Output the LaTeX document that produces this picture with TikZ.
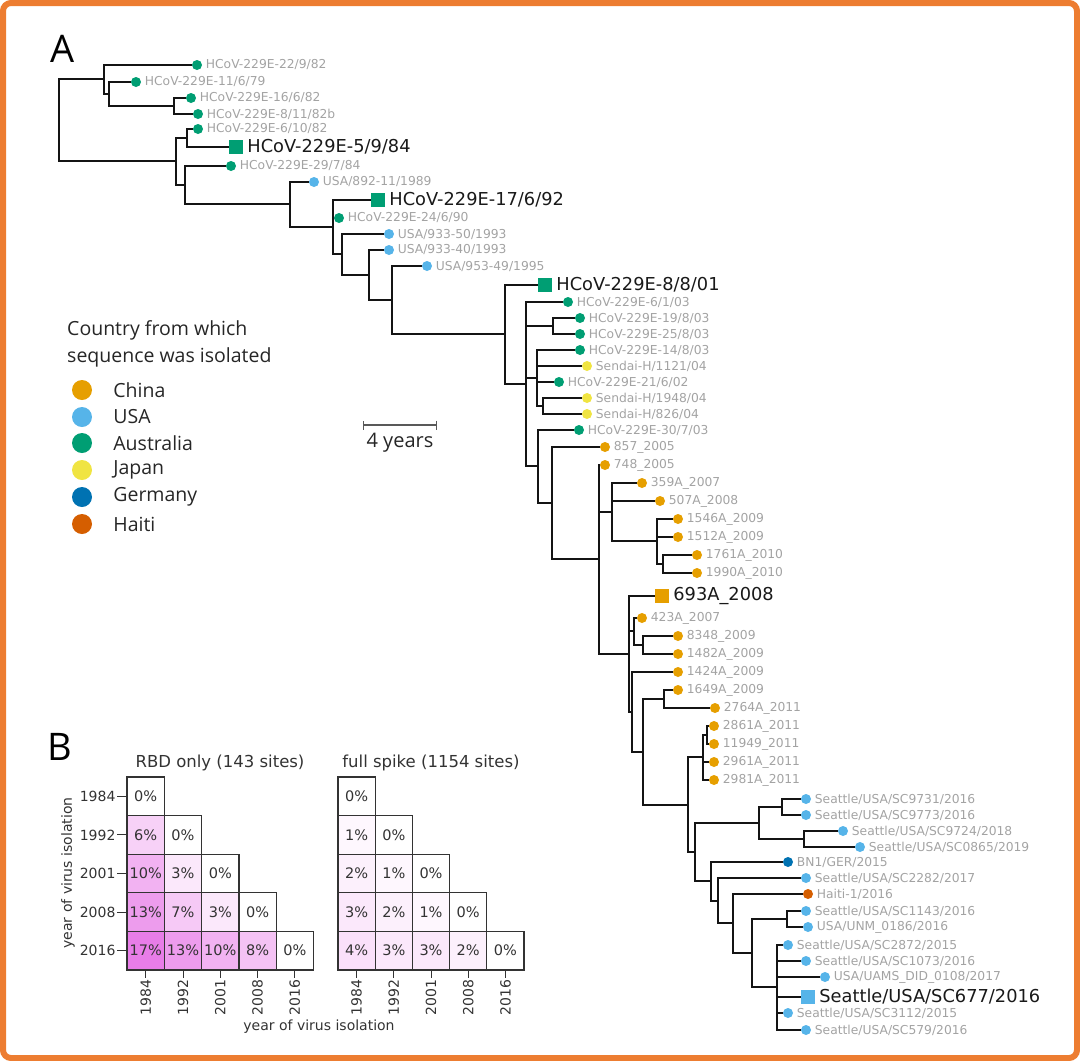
\documentclass[tikz,border=0pt]{standalone}
\usepackage{fontspec}
\setmainfont{DejaVu Sans}
\newfontfamily\opensans{Open Sans}
\usepackage{xcolor}
\usetikzlibrary{arrows.meta, positioning}
\definecolor{chn}{HTML}{E69F00}
\definecolor{usa}{HTML}{56B4E9}
\definecolor{aus}{HTML}{009E73}
\definecolor{jpn}{HTML}{F0E442}
\definecolor{ger}{HTML}{0072B2}
\definecolor{hai}{HTML}{D55E00}
\definecolor{labgrey}{HTML}{A3A3A3}
\definecolor{framecol}{RGB}{237,125,49}
\definecolor{heat}{RGB}{225,85,225}
\tikzstyle{tip} = [circle, inner sep=0pt, minimum size=10pt]
\tikzstyle{reftip} = [rectangle, inner sep=0pt, minimum size=14pt]
\tikzstyle{leaflab} = [text=labgrey, inner sep=1.5pt, font=\fontsize{12.3}{14}\selectfont]
\tikzstyle{reflab} = [text=black!90, inner sep=2pt, font=\fontsize{17.8}{20}\selectfont]
\tikzstyle{branch} = [line width=2.6pt, black!92]
\tikzstyle{cell} = [rectangle, draw=black!80, line width=1.2pt, minimum width=37.3pt, minimum height=38.6pt, inner sep=0pt, text=black!80, font=\fontsize{14.5}{16}\selectfont]
\tikzstyle{legdot} = [circle, inner sep=0pt, minimum size=20pt]
\tikzstyle{legtext} = [inner sep=0pt, anchor=west, text=black!85, font=\opensans\fontsize{19.5}{26.5}\selectfont]
\tikzstyle{tick} = [line width=1pt, black!80]
\tikzstyle{ticklab} = [inner sep=1.5pt, text=black!80, font=\fontsize{14}{16}\selectfont]
\tikzstyle{panel} = [inner sep=0pt, text=black, font=\opensans\fontsize{38}{38}\selectfont]

\begin{document}
\begin{tikzpicture}[x=1pt, y=-1pt, label distance=2pt]
\useasboundingbox (0,0) rectangle (1080,1061);
\draw[framecol, line width=6pt, rounded corners=8pt] (3,3) rectangle (1077,1058);

\node[panel] (pa) at (62.5,48.5) {A};
\node[panel] (pb) at (59.5,746.5) {B};

% tips of the tree
\node[tip, fill=aus, label={[leaflab]right:HCoV-229E-22/9/82}] (l1) at (197,65) {};
\node[tip, fill=aus, label={[leaflab]right:HCoV-229E-11/6/79}] (l2) at (136,82) {};
\node[tip, fill=aus, label={[leaflab]right:HCoV-229E-16/6/82}] (l3) at (191,98) {};
\node[tip, fill=aus, label={[leaflab]right:HCoV-229E-8/11/82b}] (l4) at (198,114) {};
\node[tip, fill=aus, label={[leaflab]right:HCoV-229E-6/10/82}] (l5) at (198,129) {};
\node[reftip, fill=aus, label={[reflab]right:HCoV-229E-5/9/84}] (l6) at (236,147) {};
\node[tip, fill=aus, label={[leaflab]right:HCoV-229E-29/7/84}] (l7) at (231,166) {};
\node[tip, fill=usa, label={[leaflab]right:USA/892-11/1989}] (l8) at (314,182) {};
\node[reftip, fill=aus, label={[reflab]right:HCoV-229E-17/6/92}] (l9) at (378,200) {};
\node[tip, fill=aus, label={[leaflab]right:HCoV-229E-24/6/90}] (l10) at (339,218) {};
\node[tip, fill=usa, label={[leaflab]right:USA/933-50/1993}] (l11) at (389,234) {};
\node[tip, fill=usa, label={[leaflab]right:USA/933-40/1993}] (l12) at (389,250) {};
\node[tip, fill=usa, label={[leaflab]right:USA/953-49/1995}] (l13) at (427,266) {};
\node[reftip, fill=aus, label={[reflab]right:HCoV-229E-8/8/01}] (l14) at (545,285) {};
\node[tip, fill=aus, label={[leaflab]right:HCoV-229E-6/1/03}] (l15) at (568,302) {};
\node[tip, fill=aus, label={[leaflab]right:HCoV-229E-19/8/03}] (l16) at (580,318) {};
\node[tip, fill=aus, label={[leaflab]right:HCoV-229E-25/8/03}] (l17) at (580,334) {};
\node[tip, fill=aus, label={[leaflab]right:HCoV-229E-14/8/03}] (l18) at (580,350) {};
\node[tip, fill=jpn, label={[leaflab]right:Sendai-H/1121/04}] (l19) at (587,366) {};
\node[tip, fill=aus, label={[leaflab]right:HCoV-229E-21/6/02}] (l20) at (559,382) {};
\node[tip, fill=jpn, label={[leaflab]right:Sendai-H/1948/04}] (l21) at (587,398) {};
\node[tip, fill=jpn, label={[leaflab]right:Sendai-H/826/04}] (l22) at (587,414) {};
\node[tip, fill=aus, label={[leaflab]right:HCoV-229E-30/7/03}] (l23) at (579,430) {};
\node[tip, fill=chn, label={[leaflab]right:857\_2005}] (l24) at (605,447) {};
\node[tip, fill=chn, label={[leaflab]right:748\_2005}] (l25) at (605,465) {};
\node[tip, fill=chn, label={[leaflab]right:359A\_2007}] (l26) at (642,483) {};
\node[tip, fill=chn, label={[leaflab]right:507A\_2008}] (l27) at (660,501) {};
\node[tip, fill=chn, label={[leaflab]right:1546A\_2009}] (l28) at (678,519) {};
\node[tip, fill=chn, label={[leaflab]right:1512A\_2009}] (l29) at (678,537) {};
\node[tip, fill=chn, label={[leaflab]right:1761A\_2010}] (l30) at (697,555) {};
\node[tip, fill=chn, label={[leaflab]right:1990A\_2010}] (l31) at (697,573) {};
\node[reftip, fill=chn, label={[reflab]right:693A\_2008}] (l32) at (662,596) {};
\node[tip, fill=chn, label={[leaflab]right:423A\_2007}] (l33) at (642,618) {};
\node[tip, fill=chn, label={[leaflab]right:8348\_2009}] (l34) at (678,636) {};
\node[tip, fill=chn, label={[leaflab]right:1482A\_2009}] (l35) at (678,654) {};
\node[tip, fill=chn, label={[leaflab]right:1424A\_2009}] (l36) at (678,672) {};
\node[tip, fill=chn, label={[leaflab]right:1649A\_2009}] (l37) at (678,690) {};
\node[tip, fill=chn, label={[leaflab]right:2764A\_2011}] (l38) at (715,708) {};
\node[tip, fill=chn, label={[leaflab]right:2861A\_2011}] (l39) at (714,726) {};
\node[tip, fill=chn, label={[leaflab]right:11949\_2011}] (l40) at (714,744) {};
\node[tip, fill=chn, label={[leaflab]right:2961A\_2011}] (l41) at (714,762) {};
\node[tip, fill=chn, label={[leaflab]right:2981A\_2011}] (l42) at (714,780) {};
\node[tip, fill=usa, label={[leaflab]right:Seattle/USA/SC9731/2016}] (l43) at (806,799) {};
\node[tip, fill=usa, label={[leaflab]right:Seattle/USA/SC9773/2016}] (l44) at (806,815) {};
\node[tip, fill=usa, label={[leaflab]right:Seattle/USA/SC9724/2018}] (l45) at (843,831) {};
\node[tip, fill=usa, label={[leaflab]right:Seattle/USA/SC0865/2019}] (l46) at (860,847) {};
\node[tip, fill=ger, label={[leaflab]right:BN1/GER/2015}] (l47) at (788,862) {};
\node[tip, fill=usa, label={[leaflab]right:Seattle/USA/SC2282/2017}] (l48) at (806,878) {};
\node[tip, fill=hai, label={[leaflab]right:Haiti-1/2016}] (l49) at (808,894) {};
\node[tip, fill=usa, label={[leaflab]right:Seattle/USA/SC1143/2016}] (l50) at (806,911) {};
\node[tip, fill=usa, label={[leaflab]right:USA/UNM\_0186/2016}] (l51) at (808,927) {};
\node[tip, fill=usa, label={[leaflab]right:Seattle/USA/SC2872/2015}] (l52) at (788,945) {};
\node[tip, fill=usa, label={[leaflab]right:Seattle/USA/SC1073/2016}] (l53) at (806,961) {};
\node[tip, fill=usa, label={[leaflab]right:USA/UAMS\_DID\_0108/2017}] (l54) at (825,977) {};
\node[reftip, fill=usa, label={[reflab]right:Seattle/USA/SC677/2016}] (l55) at (808,997) {};
\node[tip, fill=usa, label={[leaflab]right:Seattle/USA/SC3112/2015}] (l56) at (788,1013) {};
\node[tip, fill=usa, label={[leaflab]right:Seattle/USA/SC579/2016}] (l57) at (806,1030) {};

% inner nodes
\coordinate (root) at (59,120);
\coordinate (a) at (104,79);
\coordinate (a2) at (109,94);
\coordinate (a3) at (174,106);
\coordinate (b) at (176,161);
\coordinate (b1) at (187,138);
\coordinate (b2) at (185,185);
\coordinate (c) at (290,204);
\coordinate (d) at (333,227);
\coordinate (e) at (342,254);
\coordinate (f) at (369,275);
\coordinate (g) at (392,300);
\coordinate (h) at (505,334);
\coordinate (i) at (526,384);
\coordinate (j1) at (553,326);
\coordinate (j2) at (537,378);
\coordinate (j3) at (543,406);
\coordinate (k) at (538,466);
\coordinate (m) at (552,503);
\coordinate (n) at (599,559);
\coordinate (o) at (612,512);
\coordinate (q) at (657,541);
\coordinate (r) at (663,564);
\coordinate (p) at (629,654);
\coordinate (s) at (634,631);
\coordinate (s2) at (643,645);
\coordinate (p2) at (632,712);
\coordinate (t) at (643,752);
\coordinate (u) at (664,699);
\coordinate (v) at (688,805);
\coordinate (z1) at (703,757);
\coordinate (z1a) at (707,735);
\coordinate (z2) at (695,852);
\coordinate (aa) at (759,823);
\coordinate (aa1) at (782,807);
\coordinate (aa2) at (804,839);
\coordinate (bb) at (711,881);
\coordinate (cc) at (718,901);
\coordinate (dd) at (733,923);
\coordinate (ee) at (752,953);
\coordinate (ff) at (787,919);
\coordinate (gg) at (777,987);

% branches
\draw[branch] (root) |- (a) (root) |- (b);
\draw[branch] (a) |- (l1) (a) |- (a2);
\draw[branch] (a2) |- (l2) (a2) |- (a3);
\draw[branch] (a3) |- (l3) (a3) |- (l4);
\draw[branch] (b) |- (b1) (b) |- (b2);
\draw[branch] (b1) |- (l5) (b1) |- (l6);
\draw[branch] (b2) |- (l7) (b2) |- (c);
\draw[branch] (c) |- (l8) (c) |- (d);
\draw[branch] (d) |- (l9) (d) |- (l10) (d) |- (e);
\draw[branch] (e) |- (l11) (e) |- (f);
\draw[branch] (f) |- (l12) (f) |- (g);
\draw[branch] (g) |- (l13) (g) |- (h);
\draw[branch] (h) |- (l14) (h) |- (i);
\draw[branch] (i) |- (l15) (i) |- (j1) (i) |- (j2) (i) |- (k);
\draw[branch] (j1) |- (l16) (j1) |- (l17);
\draw[branch] (j2) |- (l18) (j2) |- (l19) (j2) |- (l20) (j2) |- (j3);
\draw[branch] (j3) |- (l21) (j3) |- (l22);
\draw[branch] (k) |- (l23) (k) |- (m);
\draw[branch] (m) |- (l24) (m) |- (n);
\draw[branch] (n) |- (l25) (n) |- (o) (n) |- (p);
\draw[branch] (o) |- (l26) (o) |- (l27) (o) |- (q);
\draw[branch] (q) |- (l28) (q) |- (l29) (q) |- (r);
\draw[branch] (r) |- (l30) (r) |- (l31);
\draw[branch] (p) |- (l32) (p) |- (s) (p) |- (p2);
\draw[branch] (s) |- (l33) (s) |- (s2);
\draw[branch] (s2) |- (l34) (s2) |- (l35);
\draw[branch] (p2) |- (l36) (p2) |- (t);
\draw[branch] (t) |- (u) (t) |- (v);
\draw[branch] (u) |- (l37) (u) |- (l38);
\draw[branch] (v) |- (z1) (v) |- (z2);
\draw[branch] (z1) |- (z1a) (z1) |- (l41) (z1) |- (l42);
\draw[branch] (z1a) |- (l39) (z1a) |- (l40);
\draw[branch] (z2) |- (aa) (z2) |- (bb);
\draw[branch] (aa) |- (aa1) (aa) |- (aa2);
\draw[branch] (aa1) |- (l43) (aa1) |- (l44);
\draw[branch] (aa2) |- (l45) (aa2) |- (l46);
\draw[branch] (bb) |- (l47) (bb) |- (cc);
\draw[branch] (cc) |- (l48) (cc) |- (dd);
\draw[branch] (dd) |- (l49) (dd) |- (ee);
\draw[branch] (ee) |- (ff) (ee) |- (gg);
\draw[branch] (ff) |- (l50) (ff) |- (l51);
\draw[branch] (gg) |- (l52) (gg) |- (l53) (gg) |- (l54) (gg) |- (l55) (gg) |- (l56) (gg) |- (l57);

% scale bar
\coordinate (bar-l) at (363,425);
\coordinate (bar-r) at (437,425);
\draw[{Bar[width=9pt]}-{Bar[width=9pt]}, line width=1.3pt, black!65] (bar-l) -- (bar-r);
\node[legtext, anchor=center, font=\opensans\fontsize{20}{22}\selectfont] (years) at (400,443) {4 years};

% legend
\node[legtext, align=left] (legtitle) at (67,344) {Country from which\\sequence was isolated};
\node[legdot, fill=chn] (k-chn) at (82,390) {};
\node[legdot, fill=usa] (k-usa) at (82,417) {};
\node[legdot, fill=aus] (k-aus) at (82,443) {};
\node[legdot, fill=jpn] (k-jpn) at (82,470) {};
\node[legdot, fill=ger] (k-ger) at (82,497) {};
\node[legdot, fill=hai] (k-hai) at (82,524) {};
\node[legtext, right=21pt of k-chn] {China};
\node[legtext, right=21pt of k-usa] {USA};
\node[legtext, right=21pt of k-aus] {Australia};
\node[legtext, right=21pt of k-jpn] {Japan};
\node[legtext, right=21pt of k-ger] {Germany};
\node[legtext, right=21pt of k-hai] {Haiti};

% panel B: divergence matrices
\node[ticklab, font=\fontsize{16.5}{18}\selectfont] (rbd-title) at (220,763) {RBD only (143 sites)};
\node[ticklab, font=\fontsize{16.5}{18}\selectfont] (spk-title) at (431,763) {full spike (1154 sites)};
\foreach \r/\c/\v in {0/0/0,1/0/6,1/1/0,2/0/10,2/1/3,2/2/0,3/0/13,3/1/7,3/2/3,3/3/0,4/0/17,4/1/13,4/2/10,4/3/8,4/4/0}{
  \pgfmathsetmacro\pct{4.5*\v}
  \node[cell, fill=heat!\pct!white] (rbd-\r-\c) at (145.7+37.3*\c, 796.3+38.6*\r) {\v\%};
}
\foreach \r/\c/\v in {0/0/0,1/0/1,1/1/0,2/0/2,2/1/1,2/2/0,3/0/3,3/1/2,3/2/1,3/3/0,4/0/4,4/1/3,4/2/3,4/3/2,4/4/0}{
  \pgfmathsetmacro\pct{4.5*\v}
  \node[cell, fill=heat!\pct!white] (spk-\r-\c) at (356.6+37.2*\c, 796.3+38.6*\r) {\v\%};
}
\foreach \yr [count=\r from 0] in {1984,1992,2001,2008,2016}{
  \draw[tick] (rbd-\r-0.west) -- ++(-9,0) node[ticklab, anchor=east] {\yr};
  \draw[tick] (rbd-4-\r.south) -- ++(0,7) node[ticklab, rotate=90, anchor=east] {\yr};
  \draw[tick] (spk-4-\r.south) -- ++(0,7) node[ticklab, rotate=90, anchor=east] {\yr};
}
\node[ticklab, rotate=90] (ylab) at (68,873) {year of virus isolation};
\node[ticklab] (xlab) at (319,1027) {year of virus isolation};
\end{tikzpicture}
\end{document}
